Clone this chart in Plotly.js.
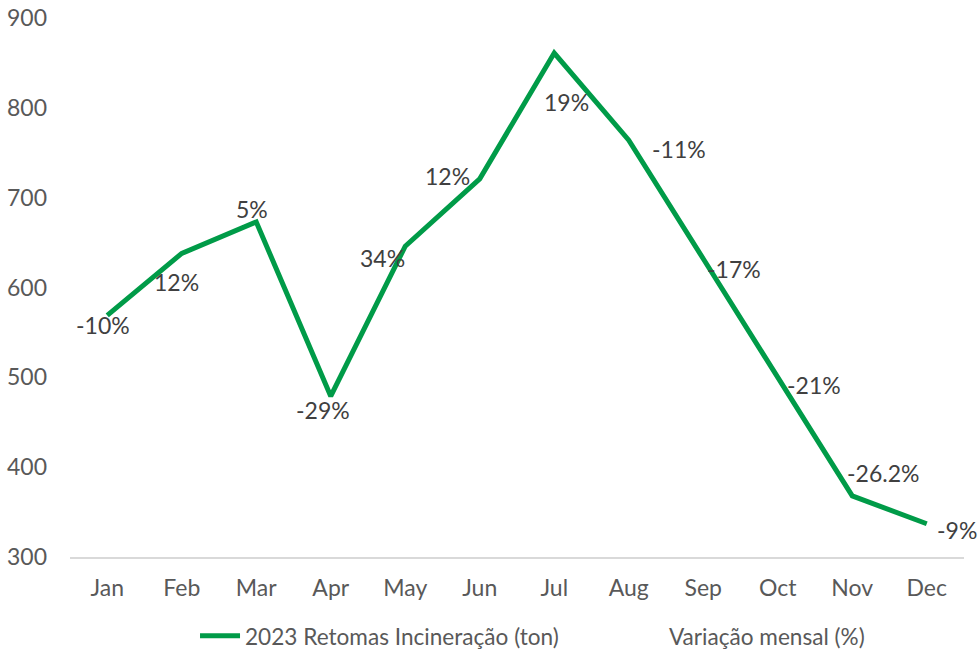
<!DOCTYPE html>
<html>
<head>
<meta charset="utf-8">
<script src="https://cdn.plot.ly/plotly-3.0.1.min.js"></script>
<style>html,body{margin:0;padding:0;background:#fff;}#chart{width:980px;height:659px;}</style>
</head>
<body>
<div id="chart"></div>
<script>
// Data
const months = ['Jan','Feb','Mar','Apr','May','Jun','Jul','Aug','Sep','Oct','Nov','Dec'];
const retomas2023 = [569, 638, 673, 479, 646, 721, 861, 764, 632, 499, 368, 337];
const variacaoLabels = ['-10%','12%','5%','-29%','34%','12%','19%','-11%','-17%','-21%','-26.2%','-9%'];
const yTicks = [300, 400, 500, 600, 700, 800, 900];

// Label placement offsets (pixels) relative to each point
const labelDX = [-4, -5, -4, -8, -23, -32, 12, 50, 31, 36, 31, 30];
const labelDY = [10, 29, -13, 14, 12, -3, 49, 9, 10, 7, -23, 6];

const FONT = 'Lato, "Open Sans", sans-serif';
const FS = 23;
const legendFont = {family: FONT, size: 22.6, color: '#595959'};

const traces = [
  {
    x: months, y: retomas2023, type: 'scatter', mode: 'lines',
    name: '2023 Retomas Incineração (ton)',
    line: {color: '#009B48', width: 5, shape: 'linear'},
    legend: 'legend'
  },
  {
    x: months, y: retomas2023, type: 'scatter', mode: 'lines',
    name: 'Variação mensal (%)',
    line: {color: 'rgba(0,0,0,0)', width: 0},
    hoverinfo: 'skip',
    legend: 'legend2'
  }
];

const annotations = months.map((m, i) => ({
  x: m, y: retomas2023[i], xref: 'x', yref: 'y',
  text: variacaoLabels[i], showarrow: false,
  xshift: labelDX[i], yshift: -labelDY[i],
  font: {family: FONT, size: FS, color: '#404040'}
}));

const layout = {
  width: 980, height: 659,
  margin: {l: 70, r: 16, t: 18, b: 102, pad: 0},
  paper_bgcolor: '#ffffff', plot_bgcolor: '#ffffff',
  font: {family: FONT, size: FS, color: '#595959'},
  showlegend: true,
  legend: {
    orientation: 'h', xref: 'container', yref: 'container',
    x: 0.1990, xanchor: 'left', y: 0.0349, yanchor: 'middle',
    itemwidth: 40, font: legendFont, bgcolor: 'rgba(0,0,0,0)'
  },
  legend2: {
    orientation: 'h', xref: 'container', yref: 'container',
    x: 0.6316, xanchor: 'left', y: 0.0349, yanchor: 'middle',
    itemwidth: 40, font: legendFont, bgcolor: 'rgba(0,0,0,0)'
  },
  xaxis: {
    type: 'category', range: [-0.5, 11.5], showgrid: false, zeroline: false,
    showline: true, linecolor: '#D9D9D9', linewidth: 1.5,
    ticks: '', ticklabelstandoff: 10, automargin: false,
    tickfont: {family: FONT, size: FS, color: '#595959'}
  },
  yaxis: {
    range: [300, 900], tickvals: yTicks, showgrid: false, zeroline: false,
    showline: false, ticks: '', ticklabelstandoff: 22, automargin: false,
    tickfont: {family: FONT, size: FS, color: '#595959'}
  },
  annotations: annotations
};

Plotly.newPlot('chart', traces, layout, {displayModeBar: false, staticPlot: true});
</script>
</body>
</html>
